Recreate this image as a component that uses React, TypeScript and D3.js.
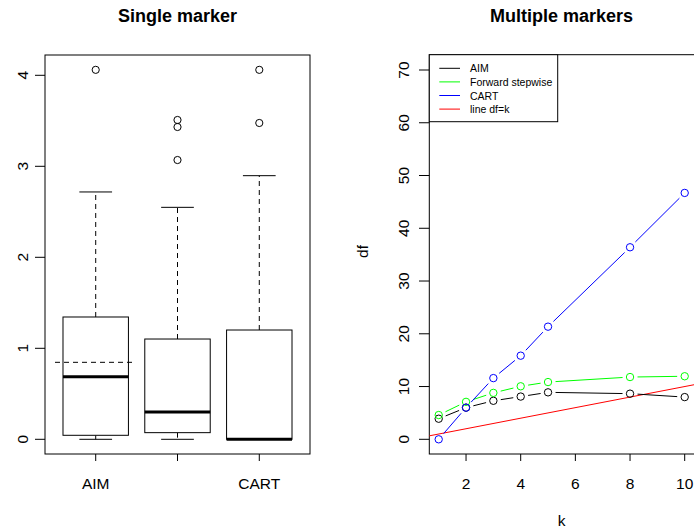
import React from "react";
import * as d3 from "d3";

// ---- Left panel data (box plot statistics) ----
const boxNames = ["AIM", "Forward stepwise", "CART"];
const boxAxisLabels = ["AIM", "", "CART"];
const whiskerLow = [0, 0, 0];
const q1 = [0.044, 0.073, 0];
const medians = [0.688, 0.3, 0];
const q3 = [1.344, 1.102, 1.201];
const whiskerHigh = [2.718, 2.549, 2.897];
const outliers = [[4.06], [3.509, 3.432, 3.069], [4.06, 3.476]];
const meanAIM = 0.846;
const leftYTicks = [0, 1, 2, 3, 4];

// ---- Right panel data ----
const kValues = [1, 2, 3, 4, 5, 8, 10];
const dfAIM = [3.9, 6.0, 7.3, 8.1, 8.9, 8.65, 8.0];
const dfForward = [4.6, 7.1, 8.8, 10.05, 10.85, 11.8, 11.95];
const dfCART = [0, 6.0, 11.6, 15.85, 21.35, 36.4, 46.7];
const rightXTicks = [2, 4, 6, 8, 10];
const rightYTicks = [0, 10, 20, 30, 40, 50, 60, 70];
const legendLabels = ["AIM", "Forward stepwise", "CART", "line df=k"];
const legendColors = ["#000000", "#00ff00", "#0000ff", "#ff0000"];

const FONT = "'Liberation Sans', Arial, Helvetica, sans-serif";

function gappedSegments(pts: [number, number][], gap: number) {
  const segs: [number, number, number, number][] = [];
  for (let i = 0; i < pts.length - 1; i++) {
    const [x0, y0] = pts[i];
    const [x1, y1] = pts[i + 1];
    const dx = x1 - x0, dy = y1 - y0;
    const len = Math.hypot(dx, dy);
    if (len <= 2 * gap) continue;
    const ux = dx / len, uy = dy / len;
    segs.push([x0 + ux * gap, y0 + uy * gap, x1 - ux * gap, y1 - uy * gap]);
  }
  return segs;
}

export default function App() {
  // Left panel scales
  const L = { x0: 45, x1: 310, y0: 55, y1: 454 };
  const xL = d3.scaleLinear().domain([0.38, 3.62]).range([L.x0, L.x1]);
  const yL = d3.scaleLinear().domain([0, 4]).range([439.3, 75.3]);
  const boxHalf = (xL(1.4) - xL(1)) ;
  const stapleHalf = boxHalf / 2;

  // Right panel scales
  const R = { x0: 429.3, x1: 694.5, y0: 54.7, y1: 454 };
  const xR = d3.scaleLinear().domain([1, 10]).range([438.7, 684.7]);
  const yR = d3.scaleLinear().domain([0, 70]).range([439.3, 70]);

  const series = [
    { vals: dfAIM, color: "#000000" },
    { vals: dfForward, color: "#00ff00" },
    { vals: dfCART, color: "#0000ff" },
  ];

  const xMinR = xR.invert(R.x0);
  const xMaxR = xR.invert(R.x1);

  return (
    <svg
      width={694}
      height={529}
      style={{ position: "absolute", left: 0, top: 0, background: "#fff" }}
      fontFamily={FONT}
    >
      <rect x={0} y={0} width={694} height={529} fill="#fff" />
      {/* ---------- Left panel ---------- */}
      <text x={177.5} y={22} textAnchor="middle" fontWeight="bold" fontSize={18}>
        Single marker
      </text>
      <rect x={L.x0} y={L.y0} width={L.x1 - L.x0} height={L.y1 - L.y0} fill="none" stroke="#000" />
      {leftYTicks.map((t) => (
        <g key={"lyt" + t}>
          <line x1={35} x2={L.x0} y1={yL(t)} y2={yL(t)} stroke="#000" />
          <text
            transform={`translate(27.5,${yL(t)}) rotate(-90)`}
            textAnchor="middle"
            fontSize={15.5}
          >
            {t}
          </text>
        </g>
      ))}
      {boxNames.map((name, i) => {
        const cx = xL(i + 1);
        return (
          <g key={name}>
            <line x1={cx} x2={cx} y1={L.y1} y2={L.y1 + 7} stroke="#000" />
            {boxAxisLabels[i] && (
              <text x={cx} y={489} textAnchor="middle" fontSize={15.5}>
                {boxAxisLabels[i]}
              </text>
            )}
            {/* whiskers */}
            <line x1={cx} x2={cx} y1={yL(q3[i])} y2={yL(whiskerHigh[i])} stroke="#000" strokeDasharray="5,4" />
            <line x1={cx} x2={cx} y1={yL(q1[i])} y2={yL(whiskerLow[i])} stroke="#000" strokeDasharray="5,4" />
            <line x1={cx - stapleHalf} x2={cx + stapleHalf} y1={yL(whiskerHigh[i])} y2={yL(whiskerHigh[i])} stroke="#000" />
            <line x1={cx - stapleHalf} x2={cx + stapleHalf} y1={yL(whiskerLow[i])} y2={yL(whiskerLow[i])} stroke="#000" />
            {/* box */}
            <rect
              x={cx - boxHalf}
              y={yL(q3[i])}
              width={2 * boxHalf}
              height={yL(q1[i]) - yL(q3[i])}
              fill="#fff"
              stroke="#000"
            />
            <line x1={cx - boxHalf} x2={cx + boxHalf} y1={yL(medians[i])} y2={yL(medians[i])} stroke="#000" strokeWidth={3} />
            {outliers[i].map((o, j) => (
              <circle key={j} cx={cx} cy={yL(o)} r={3.6} fill="none" stroke="#000" />
            ))}
          </g>
        );
      })}
      <line x1={55} x2={134} y1={yL(meanAIM)} y2={yL(meanAIM)} stroke="#000" strokeDasharray="5,4" />

      {/* ---------- Right panel ---------- */}
      <text x={561.5} y={22} textAnchor="middle" fontWeight="bold" fontSize={18}>
        Multiple markers
      </text>
      <rect x={R.x0} y={R.y0} width={R.x1 - R.x0} height={R.y1 - R.y0} fill="none" stroke="#000" />
      {rightYTicks.map((t) => (
        <g key={"ryt" + t}>
          <line x1={419} x2={R.x0} y1={yR(t)} y2={yR(t)} stroke="#000" />
          <text
            transform={`translate(409,${yR(t)}) rotate(-90)`}
            textAnchor="middle"
            fontSize={15.5}
          >
            {t}
          </text>
        </g>
      ))}
      {rightXTicks.map((t) => (
        <g key={"rxt" + t}>
          <line x1={xR(t)} x2={xR(t)} y1={R.y1} y2={R.y1 + 7} stroke="#000" />
          <text x={xR(t)} y={489} textAnchor="middle" fontSize={15.5}>
            {t}
          </text>
        </g>
      ))}
      <text transform={`translate(368,251.5) rotate(-90)`} textAnchor="middle" fontSize={15.5}>
        df
      </text>
      <text x={561.5} y={525.5} textAnchor="middle" fontSize={15.5}>
        k
      </text>

      {/* abline df = k */}
      <line x1={xR(xMinR)} y1={yR(xMinR)} x2={xR(xMaxR)} y2={yR(xMaxR)} stroke="#ff0000" />

      {series.map((s, si) => {
        const pts: [number, number][] = kValues.map((k, i) => [xR(k), yR(s.vals[i])]);
        const segs = gappedSegments(pts, 7.5);
        return (
          <g key={"s" + si}>
            {segs.map((sg, j) => (
              <line key={j} x1={sg[0]} y1={sg[1]} x2={sg[2]} y2={sg[3]} stroke={s.color} />
            ))}
            {pts.map((p, j) => (
              <circle key={"c" + j} cx={p[0]} cy={p[1]} r={3.7} fill="none" stroke={s.color} />
            ))}
          </g>
        );
      })}

      {/* legend */}
      <rect x={R.x0} y={R.y0} width={557.7 - R.x0} height={121.7 - R.y0} fill="#fff" stroke="#000" />
      {legendLabels.map((lab, i) => {
        const y = 68.3 + i * 13.6;
        return (
          <g key={lab}>
            <line x1={439.3} x2={460} y1={y} y2={y} stroke={legendColors[i]} />
            <text x={470} y={y} dominantBaseline="central" fontSize={10.5}>
              {lab}
            </text>
          </g>
        );
      })}
    </svg>
  );
}
